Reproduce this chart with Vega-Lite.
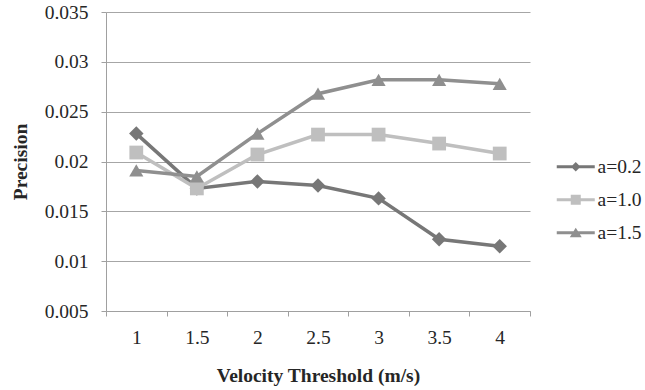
{
  "$schema": "https://vega.github.io/schema/vega-lite/v6.json",
  "autosize": {"type": "none"},
  "padding": {"left": 106, "top": 12, "right": 115, "bottom": 79},
  "width": 424,
  "height": 299,
  "background": "white",
  "config": {
    "view": {"stroke": null},
    "font": "Liberation Serif",
    "axis": {
      "labelFont": "Liberation Serif",
      "labelFontSize": 19.5,
      "labelColor": "#262626",
      "titleFont": "Liberation Serif",
      "titleFontSize": 19.5,
      "titleFontWeight": "bold",
      "titleColor": "#262626",
      "domainColor": "#a0a0a0",
      "tickColor": "#a0a0a0",
      "gridColor": "#a6a6a6",
      "tickSize": 5,
      "domainWidth": 1,
      "gridWidth": 1
    },
    "legend": {
      "labelFont": "Liberation Serif"
    }
  },
  "data": {
    "values": [
      {"v": 1, "series": "a=0.2", "p": 0.0228},
      {"v": 1.5, "series": "a=0.2", "p": 0.0173},
      {"v": 2, "series": "a=0.2", "p": 0.0180},
      {"v": 2.5, "series": "a=0.2", "p": 0.0176},
      {"v": 3, "series": "a=0.2", "p": 0.0163},
      {"v": 3.5, "series": "a=0.2", "p": 0.0122},
      {"v": 4, "series": "a=0.2", "p": 0.0115},
      {"v": 1, "series": "a=1.0", "p": 0.0209},
      {"v": 1.5, "series": "a=1.0", "p": 0.0173},
      {"v": 2, "series": "a=1.0", "p": 0.0207},
      {"v": 2.5, "series": "a=1.0", "p": 0.0227},
      {"v": 3, "series": "a=1.0", "p": 0.0227},
      {"v": 3.5, "series": "a=1.0", "p": 0.0218},
      {"v": 4, "series": "a=1.0", "p": 0.0208},
      {"v": 1, "series": "a=1.5", "p": 0.0191},
      {"v": 1.5, "series": "a=1.5", "p": 0.0185},
      {"v": 2, "series": "a=1.5", "p": 0.0228},
      {"v": 2.5, "series": "a=1.5", "p": 0.0268},
      {"v": 3, "series": "a=1.5", "p": 0.0282},
      {"v": 3.5, "series": "a=1.5", "p": 0.0282},
      {"v": 4, "series": "a=1.5", "p": 0.0278}
    ]
  },
  "encoding": {
    "x": {
      "field": "v",
      "type": "quantitative",
      "scale": {"domain": [0.75, 4.25], "nice": false, "zero": false},
      "axis": {
        "title": "Velocity Threshold (m/s)",
        "values": [0.75, 1, 1.25, 1.5, 1.75, 2, 2.25, 2.5, 2.75, 3, 3.25, 3.5, 3.75, 4, 4.25],
        "labelExpr": "datum.value % 0.5 == 0 ? '' + datum.value : ''",
        "tickOpacity": {"condition": {"test": "datum.value % 0.5 == 0", "value": 0}, "value": 1},
        "grid": false,
        "labelFont": "Liberation Serif",
        "labelPadding": 12,
        "titlePadding": 20,
        "labelFlush": false,
        "labelOverlap": false
      }
    },
    "y": {
      "field": "p",
      "type": "quantitative",
      "scale": {"domain": [0.005, 0.035], "nice": false, "zero": false},
      "axis": {
        "title": "Precision",
        "values": [0.005, 0.01, 0.015, 0.02, 0.025, 0.03, 0.035],
        "labelExpr": "'' + datum.value",
        "grid": true,
        "labelFont": "Liberation Serif",
        "labelPadding": 13,
        "titlePadding": 14,
        "labelFlush": false,
        "labelOverlap": false
      }
    },
    "color": {
      "field": "series",
      "type": "nominal",
      "scale": {"domain": ["a=0.2", "a=1.0", "a=1.5"], "range": ["#777777", "#bfbfbf", "#8f8f8f"]},
      "legend": {
        "orient": "none",
        "legendX": 460,
        "legendY": 145,
        "title": null,
        "padding": 0,
        "labelFont": "Liberation Serif",
        "labelFontSize": 19.5,
        "labelColor": "#262626",
        "symbolSize": 100,
        "labelOffset": 12,
        "rowPadding": 12,
        "encode": {
          "symbols": {
            "update": {
              "shape": {"signal": "datum.value === 'a=0.2' ? 'M-3.8,-0.3H3.8V0.3H-3.8Z M0,-0.95L0.95,0L0,0.95L-0.95,0Z' : datum.value === 'a=1.0' ? 'M-3.8,-0.3H3.8V0.3H-3.8Z M-1,-1H1V1H-1Z' : 'M-3.8,-0.3H3.8V0.3H-3.8Z M0,-1L1.2,0.9H-1.2Z'"},
              "fill": {"scale": "color", "field": "value"},
              "fillOpacity": {"value": 1},
              "strokeWidth": {"value": 0}
            }
          }
        }
      }
    }
  },
  "layer": [
    {
      "mark": {"type": "line", "strokeWidth": 3.5}
    },
    {
      "transform": [{"filter": "datum.series === 'a=0.2'"}],
      "mark": {"type": "point", "filled": true, "opacity": 1, "size": 210, "shape": "diamond"}
    },
    {
      "transform": [{"filter": "datum.series === 'a=1.0'"}],
      "mark": {"type": "point", "filled": true, "opacity": 1, "size": 190, "shape": "square"}
    },
    {
      "transform": [{"filter": "datum.series === 'a=1.5'"}],
      "mark": {"type": "point", "filled": true, "opacity": 1, "size": 200, "shape": "triangle-up"}
    }
  ]
}
